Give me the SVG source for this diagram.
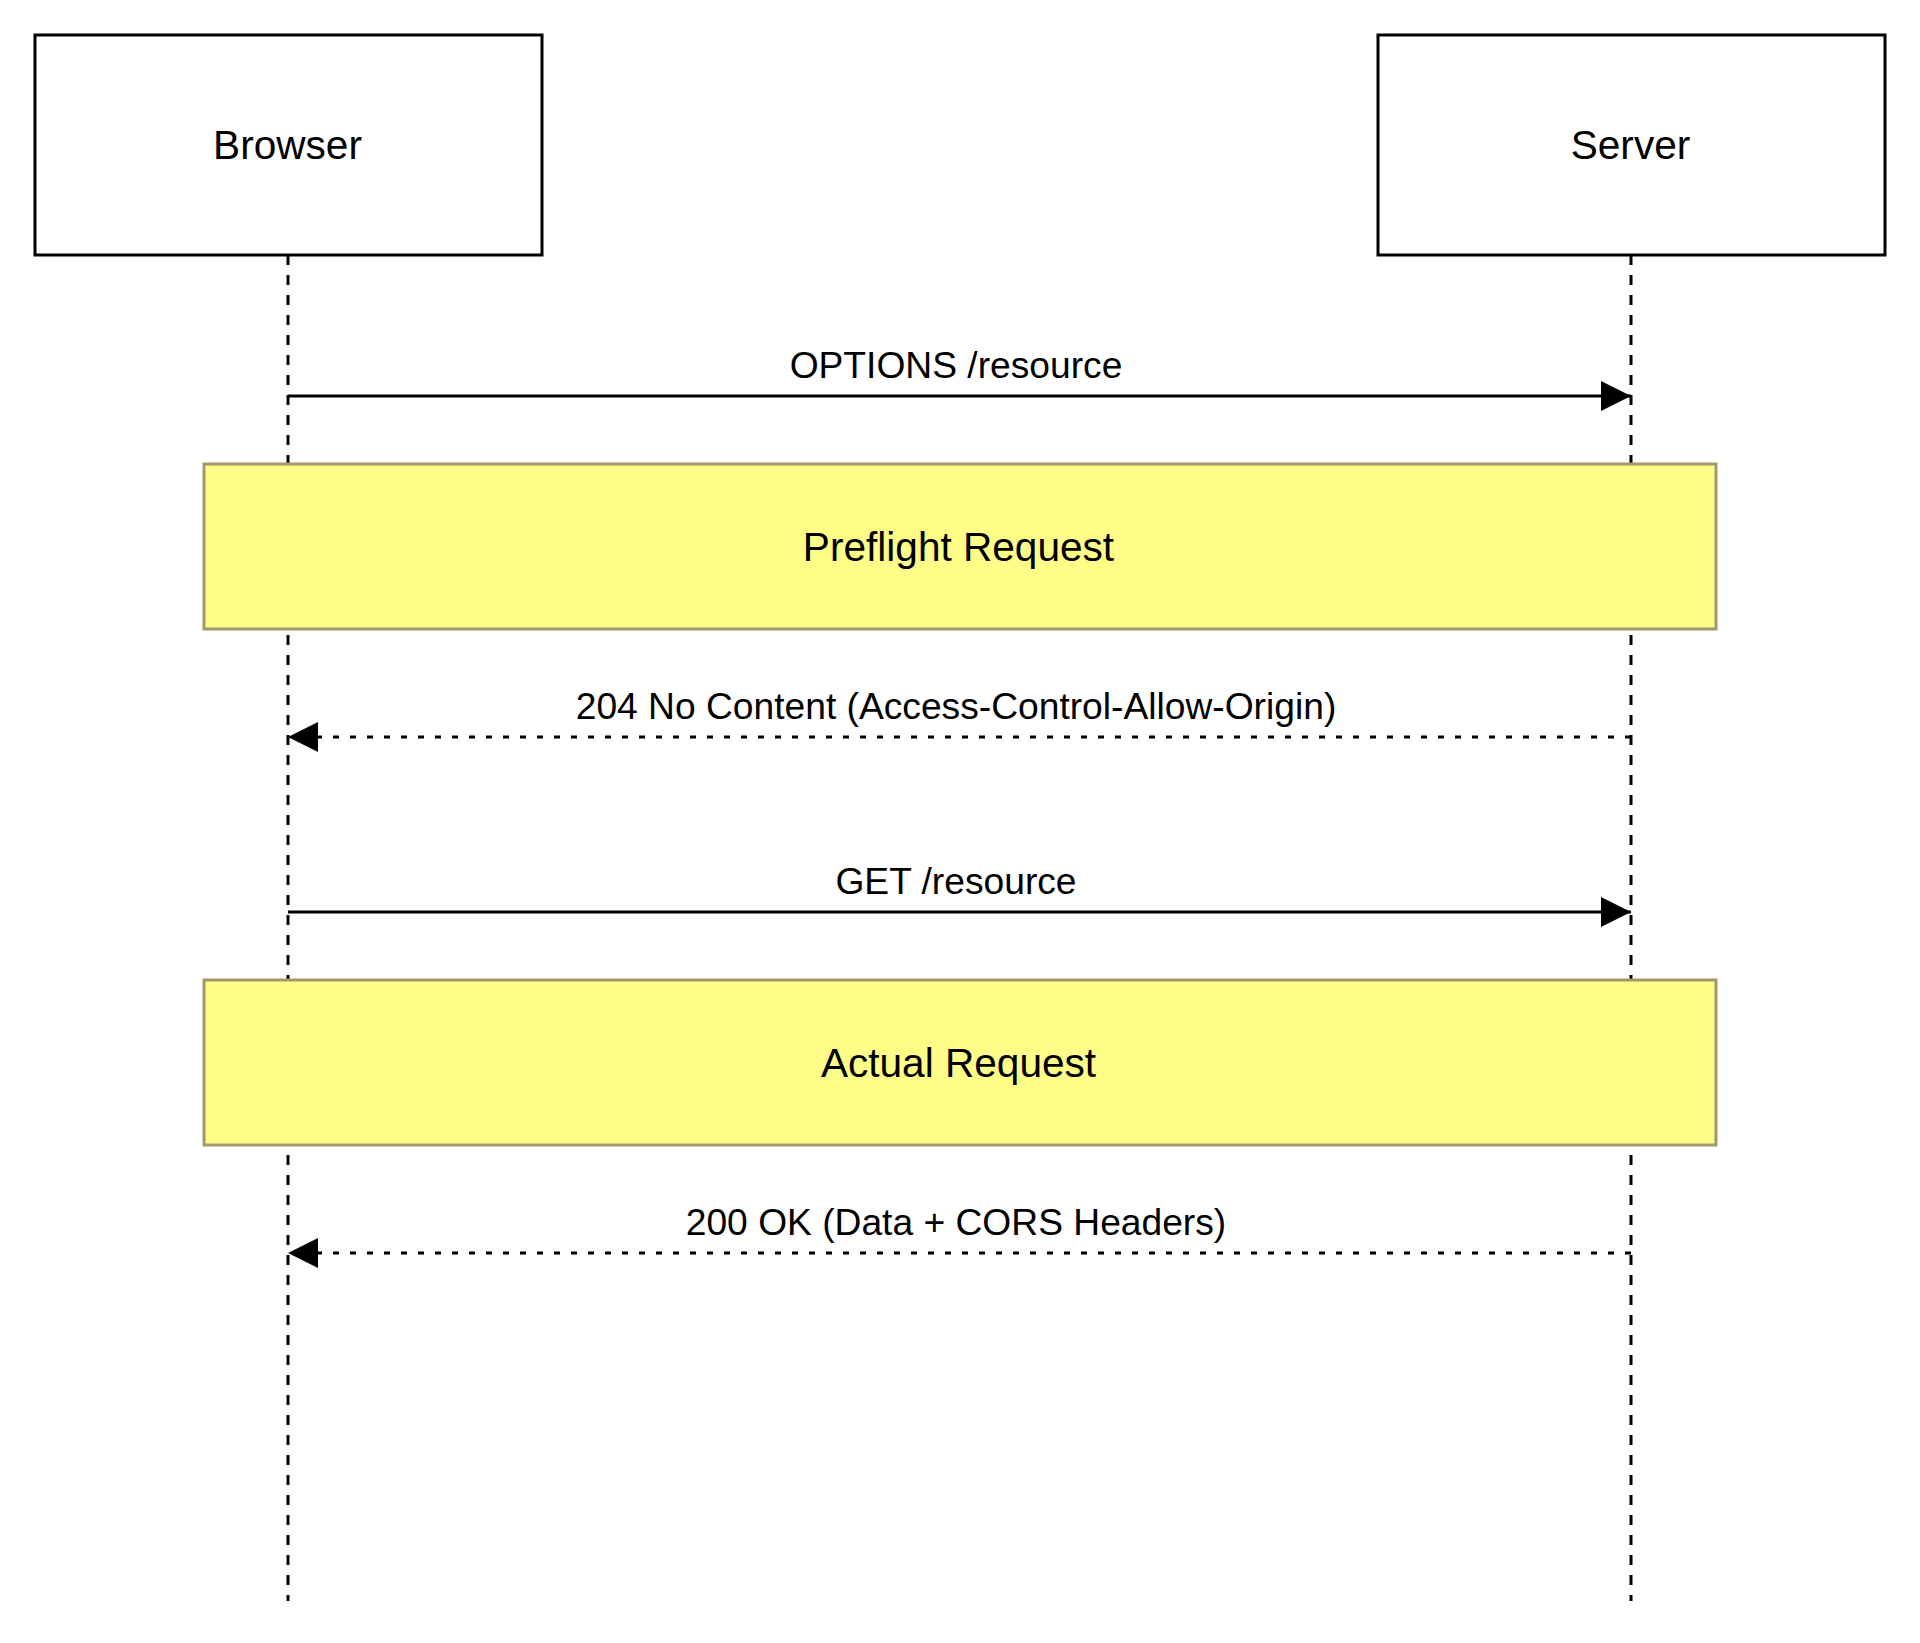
<svg xmlns="http://www.w3.org/2000/svg" width="1920" height="1643" viewBox="0 0 1920 1643">
<style>
.actor{fill:#ffffff;stroke:#000000;stroke-width:3}
.life{stroke:#000000;stroke-width:3;stroke-dasharray:10 10;fill:none}
.note{fill:#fdfd88;stroke:#a3976f;stroke-width:3}
.msg{stroke:#000000;stroke-width:3;fill:none}
.dot{stroke-dasharray:6 11}
.t{font-family:"Liberation Sans",Arial,sans-serif;fill:#000000;text-anchor:middle}
.big{font-size:40.6px}
.lbl{font-size:37.2px}
</style>
<defs>
<marker id="ah" markerUnits="userSpaceOnUse" markerWidth="30" markerHeight="30" viewBox="0 0 28 28" refX="28" refY="14" orient="auto">
<path d="M0,0 L28,14 L0,28 Z" fill="#000000"/>
</marker>
</defs>
<rect width="1920" height="1643" fill="#ffffff"/>
<g id="lifelines">
<line class="life" x1="288" y1="255" x2="288" y2="1601"/>
<line class="life" x1="1631" y1="255" x2="1631" y2="1601"/>
</g>
<g id="browser">
<rect class="actor" x="35" y="35" width="507" height="220"/>
<text class="t big" x="287.5" y="145" dominant-baseline="central">Browser</text>
</g>
<g id="server">
<rect class="actor" x="1378" y="35" width="507" height="220"/>
<text class="t big" x="1630.5" y="145" dominant-baseline="central">Server</text>
</g>
<g id="connectors">
<line class="msg" x1="288" y1="396" x2="1631" y2="396" marker-end="url(#ah)"/>
<text class="t lbl" x="956" y="378">OPTIONS /resource</text>
<line class="msg dot" x1="1631" y1="737" x2="288" y2="737" marker-end="url(#ah)"/>
<text class="t lbl" x="956" y="719">204 No Content (Access-Control-Allow-Origin)</text>
<line class="msg" x1="288" y1="912" x2="1631" y2="912" marker-end="url(#ah)"/>
<text class="t lbl" x="956" y="894">GET /resource</text>
<line class="msg dot" x1="1631" y1="1253" x2="288" y2="1253" marker-end="url(#ah)"/>
<text class="t lbl" x="956" y="1235">200 OK (Data + CORS Headers)</text>
</g>
<g id="preflight">
<rect class="note" x="204" y="464" width="1512" height="165"/>
<text class="t big" x="958.5" y="547" dominant-baseline="central">Preflight Request</text>
</g>
<g id="actual">
<rect class="note" x="204" y="980" width="1512" height="165"/>
<text class="t big" x="958.5" y="1063" dominant-baseline="central">Actual Request</text>
</g>
</svg>
